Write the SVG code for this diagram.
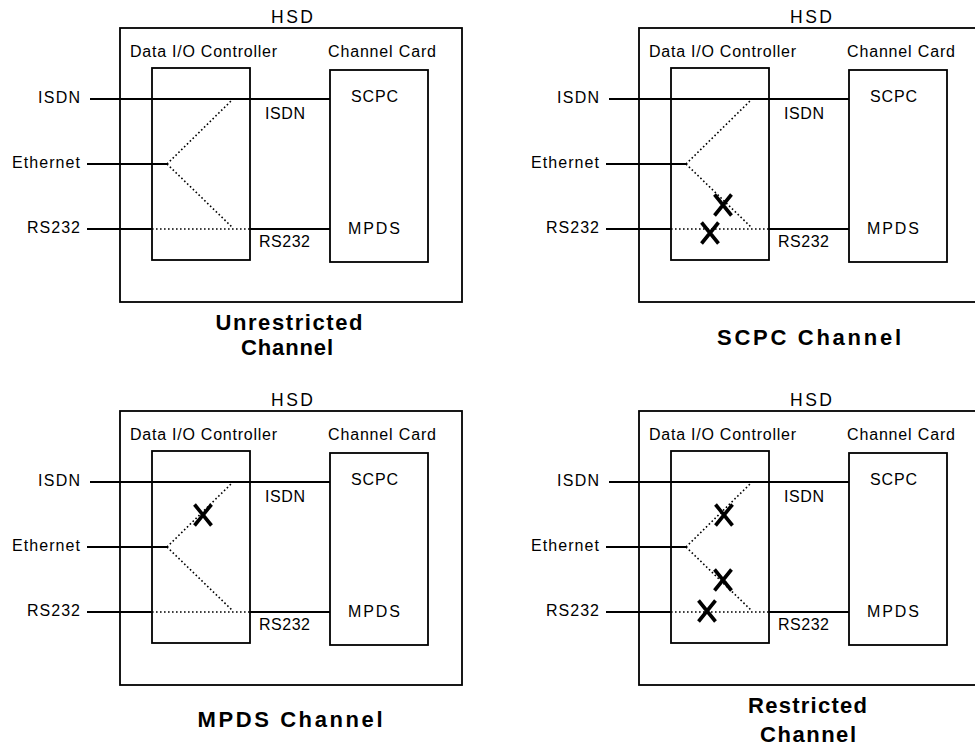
<svg xmlns="http://www.w3.org/2000/svg" xmlns:xlink="http://www.w3.org/1999/xlink" width="975" height="748" viewBox="0 0 975 748">
<style>
.box{fill:none;stroke:#000;stroke-width:1.8}
.wire{fill:none;stroke:#000;stroke-width:1.8}
.dot{fill:none;stroke:#000;stroke-width:1.6;stroke-dasharray:1.6 2.4}
.lbl{font-family:"Liberation Sans",Arial,sans-serif;font-size:16px;fill:#000}
.hsd{font-family:"Liberation Sans",Arial,sans-serif;font-size:17.5px;fill:#000}
.ttl{font-family:"Liberation Sans",Arial,sans-serif;font-size:22px;font-weight:bold;fill:#000;text-anchor:middle}
.xm{fill:none;stroke:#000;stroke-width:3.6}
</style>
<defs>
<g id="xmark"><path class="xm" d="M-8.5 -10.5 L8.5 10.5 M8.5 -10.5 L-8.5 10.5"/></g>
<g id="panel">
<g id="hsd-box"><rect class="box" x="120" y="28" width="342" height="274"/><text class="hsd" x="271" y="23" textLength="42" lengthAdjust="spacing">HSD</text></g>
<g id="dio-box"><rect class="box" x="152" y="68" width="98" height="192"/><text class="lbl" x="130" y="57" textLength="147" lengthAdjust="spacing">Data I/O Controller</text></g>
<g id="cc-box"><rect class="box" x="330" y="70" width="98" height="192"/><text class="lbl" x="328" y="57" textLength="108" lengthAdjust="spacing">Channel Card</text><text class="lbl" x="351" y="102" textLength="47" lengthAdjust="spacing">SCPC</text><text class="lbl" x="348" y="234" textLength="52" lengthAdjust="spacing">MPDS</text></g>
<g id="in-isdn"><text class="lbl" x="38" y="103" textLength="42" lengthAdjust="spacing">ISDN</text></g>
<g id="in-eth"><text class="lbl" x="12" y="168" textLength="68" lengthAdjust="spacing">Ethernet</text></g>
<g id="in-rs232"><text class="lbl" x="27" y="233" textLength="53" lengthAdjust="spacing">RS232</text></g>
<g id="out-labels"><text class="lbl" x="265" y="119" textLength="40" lengthAdjust="spacing">ISDN</text><text class="lbl" x="259" y="247" textLength="51" lengthAdjust="spacing">RS232</text></g>
<g id="connectors">
<path class="wire" d="M90 99 H330"/>
<path class="wire" d="M87 164 H167"/>
<path class="wire" d="M87 229 H152 M250 229 H330"/>
<path class="dot" d="M152 229 H250"/>
<path class="dot" d="M167 164 L231 101"/>
<path class="dot" d="M167 164 L233 228"/>
</g>
</g>
</defs>
<g id="unrestricted">
<use xlink:href="#panel"/>
<text class="ttl" x="289" y="330" textLength="147" lengthAdjust="spacing">Unrestricted</text>
<text class="ttl" x="287" y="355" textLength="92" lengthAdjust="spacing">Channel</text>
</g>
<g id="scpc" transform="translate(519,0)">
<use xlink:href="#panel"/>
<use xlink:href="#xmark" x="204" y="205"/>
<use xlink:href="#xmark" x="191" y="233"/>
<text class="ttl" x="290" y="345" textLength="184" lengthAdjust="spacing">SCPC Channel</text>
</g>
<g id="mpds" transform="translate(0,383)">
<use xlink:href="#panel"/>
<use xlink:href="#xmark" x="203" y="132"/>
<text class="ttl" x="290" y="344" textLength="185" lengthAdjust="spacing">MPDS Channel</text>
</g>
<g id="restricted" transform="translate(519,383)">
<use xlink:href="#panel"/>
<use xlink:href="#xmark" x="205" y="132"/>
<use xlink:href="#xmark" x="204" y="197"/>
<use xlink:href="#xmark" x="188" y="228"/>
<text class="ttl" x="288.5" y="330" textLength="119" lengthAdjust="spacing">Restricted</text>
<text class="ttl" x="289" y="359" textLength="96" lengthAdjust="spacing">Channel</text>
</g>
</svg>
